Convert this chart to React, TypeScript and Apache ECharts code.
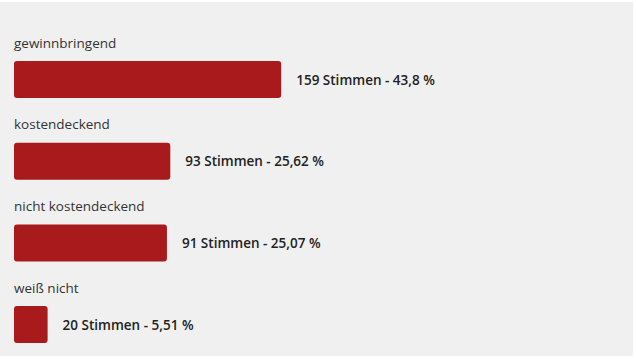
import React, { useEffect, useRef } from "react";
import * as echarts from "echarts";

const categories = ["gewinnbringend", "kostendeckend", "nicht kostendeckend", "weiß nicht"];
const votes = [159, 93, 91, 20];
const percents = ["43,8", "25,62", "25,07", "5,51"];
const totalVotes = 363;

export default function App() {
  const ref = useRef<HTMLDivElement>(null);
  useEffect(() => {
    if (!ref.current) return;
    const chart = echarts.init(ref.current, null, { renderer: "svg" });
    chart.setOption({
      animation: false,
      backgroundColor: "#f0f0f0",
      grid: { left: 14, top: 36.7, width: 610, height: 326.7 },
      xAxis: {
        type: "value",
        min: 0,
        max: totalVotes,
        show: false,
      },
      yAxis: {
        type: "category",
        inverse: true,
        data: categories,
        axisLine: { show: false },
        axisTick: { show: false },
        splitLine: { show: false },
        axisLabel: {
          inside: true,
          margin: 0,
          interval: 0,
          showMinLabel: true,
          showMaxLabel: true,
          hideOverlap: false,
          align: "left",
          verticalAlign: "middle",
          formatter: (v: string) => `{a|${v}}\n{gap|}`,
          rich: {
            a: { fontFamily: "Open Sans", fontSize: 13.5, color: "#333", height: 18, lineHeight: 18 },
            gap: { height: 74, lineHeight: 74 },
          },
        },
      },
      series: [
        {
          type: "bar",
          data: votes,
          barWidth: 37,
          itemStyle: { color: "#a81a1b", borderRadius: 3 },
          label: {
            show: true,
            position: "right",
            distance: 15,
            fontFamily: "Open Sans",
            fontSize: 13.5,
            fontWeight: 600,
            color: "#222",
            formatter: (p: any) => `${votes[p.dataIndex]} Stimmen - ${percents[p.dataIndex]} %`,
          },
        },
      ],
    });
    return () => chart.dispose();
  }, []);
  return (
    <div style={{ position: "fixed", left: 0, top: 0, width: 636, height: 359, background: "#fff" }}>
      <div style={{ position: "absolute", left: 0, top: 2, width: 633, height: 354, overflow: "hidden" }}>
        <div ref={ref} style={{ position: "absolute", left: 0, top: 0, width: 633, height: 380 }} />
      </div>
    </div>
  );
}
